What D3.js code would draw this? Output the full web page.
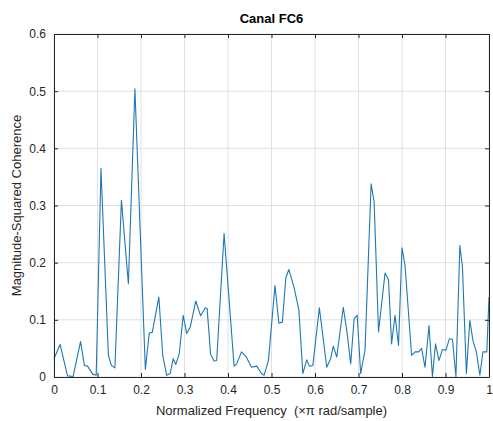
<!DOCTYPE html>
<html>
<head>
<meta charset="utf-8">
<script src="https://cdn.jsdelivr.net/npm/d3@7"></script>
<style>
  body { margin: 0; background: #fff; }
  svg { font-family: "Liberation Sans", Arial, sans-serif; }
</style>
</head>
<body>
<div id="chart"></div>
<script>
const title = "Canal FC6";
const xLabel = "Normalized Frequency  (\u00d7\u03c0 rad/sample)";
const yLabel = "Magnitude-Squared Coherence";

const xTicks = [0, 0.1, 0.2, 0.3, 0.4, 0.5, 0.6, 0.7, 0.8, 0.9, 1];
const yTicks = [0, 0.1, 0.2, 0.3, 0.4, 0.5, 0.6];

// values
const freq = [
  0, 0.014, 0.031, 0.044, 0.061, 0.070, 0.077, 0.089, 0.097, 0.108,
  0.125, 0.132, 0.140, 0.155, 0.171, 0.186, 0.210, 0.219, 0.226, 0.241,
  0.250, 0.259, 0.267, 0.274, 0.280, 0.288, 0.297, 0.305, 0.313, 0.326,
  0.337, 0.348, 0.352, 0.360, 0.368, 0.374, 0.391, 0.414, 0.420, 0.431,
  0.442, 0.454, 0.466, 0.477, 0.483, 0.493, 0.508, 0.517, 0.525, 0.533,
  0.540, 0.552, 0.563, 0.572, 0.581, 0.587, 0.595, 0.610, 0.627, 0.636,
  0.642, 0.650, 0.665, 0.674, 0.682, 0.690, 0.697, 0.705, 0.715, 0.729,
  0.736, 0.746, 0.761, 0.769, 0.776, 0.784, 0.792, 0.800, 0.807, 0.822,
  0.830, 0.838, 0.845, 0.853, 0.862, 0.870, 0.877, 0.885, 0.893, 0.901,
  0.909, 0.916, 0.924, 0.933, 0.939, 0.948, 0.956, 0.963, 0.971, 0.979,
  0.986, 0.995, 1.0
];
const coherence = [
  0.032, 0.057, 0.002, 0.001, 0.062, 0.020, 0.019, 0.005, 0.003, 0.365,
  0.038, 0.020, 0.016, 0.309, 0.163, 0.504, 0.013, 0.077, 0.078, 0.140,
  0.038, 0.003, 0.006, 0.032, 0.022, 0.041, 0.108, 0.076, 0.087, 0.133,
  0.107, 0.121, 0.120, 0.040, 0.028, 0.029, 0.251, 0.019, 0.023, 0.044,
  0.035, 0.017, 0.019, 0.006, 0.003, 0.029, 0.160, 0.094, 0.096, 0.174,
  0.188, 0.156, 0.117, 0.006, 0.030, 0.019, 0.020, 0.121, 0.017, 0.032,
  0.054, 0.035, 0.122, 0.076, 0.023, 0.102, 0.108, 0.006, 0.047, 0.338,
  0.306, 0.079, 0.182, 0.170, 0.058, 0.108, 0.055, 0.226, 0.195, 0.038,
  0.044, 0.044, 0.050, 0.017, 0.090, 0.001, 0.058, 0.029, 0.048, 0.047,
  0.067, 0.066, 0.001, 0.230, 0.192, 0.006, 0.099, 0.064, 0.044, 0.003,
  0.044, 0.044, 0.140
];

const width = 493;
const height = 421;
const margin = { top: 34, right: 4, bottom: 44, left: 54 };
const innerWidth = 435;
const innerHeight = 343;
const axisColor = "#262626";

const svg = d3.select("#chart").append("svg")
  .attr("width", width)
  .attr("height", height);

const g = svg.append("g")
  .attr("transform", `translate(${margin.left},${margin.top})`);

const x = d3.scaleLinear().domain([0, 1]).range([0, innerWidth]);
const y = d3.scaleLinear().domain([0, 0.6]).range([innerHeight, 0]);

// grid
g.append("g").selectAll("line").data(xTicks).join("line")
  .attr("x1", (d) => x(d)).attr("x2", (d) => x(d))
  .attr("y1", 0).attr("y2", innerHeight)
  .attr("stroke", "#e0e0e0").attr("stroke-width", 1);
g.append("g").selectAll("line").data(yTicks).join("line")
  .attr("y1", (d) => y(d)).attr("y2", (d) => y(d))
  .attr("x1", 0).attr("x2", innerWidth)
  .attr("stroke", "#e0e0e0").attr("stroke-width", 1);

// data line
const pts = freq.map((f, i) => [f, coherence[i]]);
g.append("path")
  .datum(pts)
  .attr("fill", "none")
  .attr("stroke", "#1f78b4")
  .attr("stroke-width", 1.1)
  .attr("stroke-linejoin", "round")
  .attr("d", d3.line().x((d) => x(d[0])).y((d) => y(d[1])));

// axes with inward ticks on all sides
const styleAxis = (sel) => {
  sel.select(".domain").attr("stroke", axisColor);
  sel.selectAll(".tick line").attr("stroke", axisColor);
  sel.selectAll(".tick text").attr("fill", axisColor).style("font-size", "12px");
};
const noLabels = (sel) => sel.selectAll(".tick text").remove();

g.append("g")
  .attr("transform", `translate(0,${innerHeight})`)
  .call(d3.axisBottom(x).tickValues(xTicks).tickFormat(d3.format("")).tickSizeInner(-4).tickSizeOuter(0).tickPadding(8))
  .call(styleAxis);

g.append("g")
  .call(d3.axisTop(x).tickValues(xTicks).tickSizeInner(-4).tickSizeOuter(0))
  .call(styleAxis)
  .call(noLabels);

g.append("g")
  .call(d3.axisLeft(y).tickValues(yTicks).tickFormat(d3.format("")).tickSizeInner(-4).tickSizeOuter(0).tickPadding(8))
  .call(styleAxis);

g.append("g")
  .attr("transform", `translate(${innerWidth},0)`)
  .call(d3.axisRight(y).tickValues(yTicks).tickSizeInner(-4).tickSizeOuter(0))
  .call(styleAxis)
  .call(noLabels);

// labels
svg.append("text")
  .attr("x", margin.left + innerWidth / 2)
  .attr("y", 23)
  .attr("text-anchor", "middle")
  .attr("fill", "#000")
  .style("font-size", "13px")
  .style("font-weight", "bold")
  .text(title);

svg.append("text")
  .attr("x", margin.left + innerWidth / 2)
  .attr("y", 415)
  .attr("text-anchor", "middle")
  .attr("fill", axisColor)
  .style("font-size", "13px")
  .style("white-space", "pre")
  .text(xLabel);

svg.append("text")
  .attr("transform", `translate(21,${margin.top + innerHeight / 2}) rotate(-90)`)
  .attr("text-anchor", "middle")
  .attr("fill", axisColor)
  .style("font-size", "13px")
  .text(yLabel);
</script>
</body>
</html>
